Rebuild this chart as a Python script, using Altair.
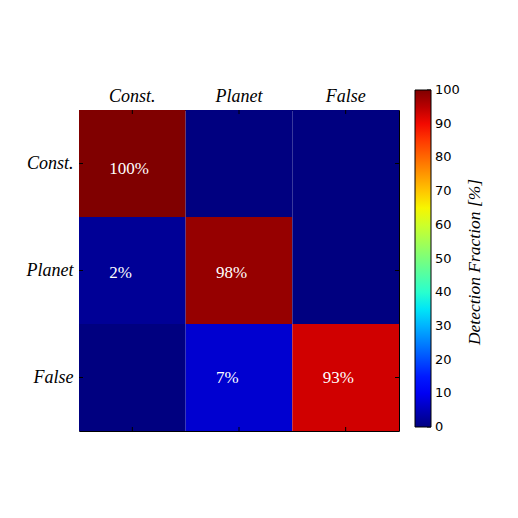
import altair as alt
import numpy as np
import pandas as pd

categories = ["Const.", "Planet", "False"]
rows = ["Const.", "Const.", "Const.", "Planet", "Planet", "Planet", "False", "False", "False"]
cols = ["Const.", "Planet", "False", "Const.", "Planet", "False", "Const.", "Planet", "False"]
values = [100, 0, 0, 2, 98, 0, 0, 7, 93]
legend_ticks = [0, 10, 20, 30, 40, 50, 60, 70, 80, 90, 100]
colorbar_title = "Detection Fraction [%]"

df = pd.DataFrame({"row": rows, "col": cols, "value": values})
df["label"] = [f"{v}%" for v in values]
tick_df = pd.DataFrame({"tick": legend_ticks})

# jet colormap stops (matplotlib segment data)
s = np.linspace(0, 1, 41)
r = np.interp(s, [0, 0.35, 0.66, 0.89, 1], [0, 0, 1, 1, 0.5])
g = np.interp(s, [0, 0.125, 0.375, 0.64, 0.91, 1], [0, 0, 1, 1, 0, 0])
b = np.interp(s, [0, 0.11, 0.34, 0.65, 1], [0.5, 1, 1, 0, 0])
jet = ["#%02x%02x%02x" % (int(round(rr * 255)), int(round(gg * 255)), int(round(bb * 255))) for rr, gg, bb in zip(r, g, b)]
jet_domain = [float(v * 100) for v in s]
jet_scale = alt.Scale(domain=jet_domain, range=jet, clamp=True)

W, H = 320, 321
CB_X, CB_Y, CB_LEN, CB_W = 336, -20, 337, 16

xenc = alt.X("col:N", sort=categories, title=None,
             scale=alt.Scale(paddingInner=0, paddingOuter=0),
             axis=alt.Axis(orient="top", ticks=False, domain=False, labelAngle=0,
                           labelFont="Liberation Serif", labelFontStyle="italic",
                           labelFontSize=18, labelColor="black", labelPadding=5))
yenc = alt.Y("row:N", sort=categories, title=None,
             scale=alt.Scale(paddingInner=0, paddingOuter=0),
             axis=alt.Axis(ticks=False, domain=False,
                           labelFont="Liberation Serif", labelFontStyle="italic",
                           labelFontSize=18, labelColor="black", labelPadding=6))

base = alt.Chart(df)

heat = base.mark_rect().encode(
    x=xenc, y=yenc,
    color=alt.Color("value:Q", scale=jet_scale,
                    legend=alt.Legend(title=None, orient="none",
                                      legendX=CB_X, legendY=CB_Y, direction="vertical",
                                      gradientLength=CB_LEN, gradientThickness=CB_W,
                                      gradientStrokeColor="black", gradientStrokeWidth=1,
                                      labelExpr="''", labelOpacity=0, values=legend_ticks)),
)

text_layers = []
for row_name, dy in zip(categories, [5, 2, 0]):
    text_layers.append(
        base.transform_filter(f"datum.value > 0 && datum.row == '{row_name}'").mark_text(
            align="left", dx=-23, dy=dy, font="Liberation Serif", fontSize=17, color="white"
        ).encode(x=alt.X("col:N", sort=categories), y=alt.Y("row:N", sort=categories), text="label:N")
    )

title_layer = alt.Chart(pd.DataFrame({"t": [colorbar_title]})).mark_text(
    angle=270, font="Liberation Serif", fontStyle="italic", fontSize=17.5, color="black",
    align="center", baseline="middle"
).encode(text="t:N", x=alt.value(396), y=alt.value(152))

cb_y = alt.Y("tick:Q", scale=alt.Scale(domain=[0, 100], range=[CB_Y + CB_LEN, CB_Y]), axis=None)
cb_ticks = alt.Chart(tick_df).mark_rule(color="black", strokeWidth=1).encode(
    y=cb_y, x=alt.value(CB_X + CB_W - 4), x2=alt.value(CB_X + CB_W),
)
cb_labels = alt.Chart(tick_df).mark_text(
    align="left", baseline="middle", font="DejaVu Sans", fontSize=13, color="black"
).encode(y=cb_y, x=alt.value(CB_X + CB_W + 4), text="tick:Q")

tick_top = base.transform_filter("datum.row == 'Const.'").mark_rule(color="black").encode(
    x=alt.X("col:N", sort=categories), y=alt.value(0), y2=alt.value(4))
tick_bot = base.transform_filter("datum.row == 'Const.'").mark_rule(color="black").encode(
    x=alt.X("col:N", sort=categories), y=alt.value(H - 4), y2=alt.value(H))
tick_left = base.transform_filter("datum.col == 'Const.'").mark_rule(color="black").encode(
    y=alt.Y("row:N", sort=categories), x=alt.value(0), x2=alt.value(4))
tick_right = base.transform_filter("datum.col == 'Const.'").mark_rule(color="black").encode(
    y=alt.Y("row:N", sort=categories), x=alt.value(W - 4), x2=alt.value(W))

main = alt.layer(heat, *text_layers, tick_top, tick_bot, tick_left, tick_right, title_layer)

chart = alt.layer(main, alt.layer(cb_ticks, cb_labels)).resolve_scale(y="independent").properties(
    width=W, height=H,
    autosize=alt.AutoSizeParams(type="none"),
    padding={"left": 71, "top": 102, "right": 100, "bottom": 70},
    background="white",
).configure_view(stroke="black", strokeWidth=1)

chart.save("out.html", embed_options={"renderer": "svg", "actions": False})
